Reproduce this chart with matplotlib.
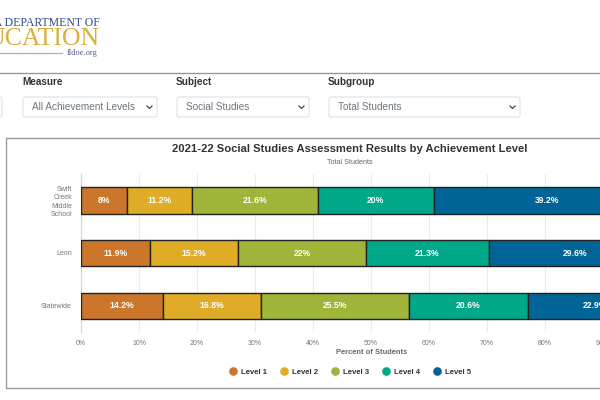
#!/usr/bin/env python3
"""Stacked achievement level bars inside a cropped dashboard page."""
import matplotlib
matplotlib.use("Agg")
import matplotlib.pyplot as plt
from matplotlib.lines import Line2D
from matplotlib.patches import FancyBboxPatch, Rectangle

plt.rcParams["font.family"] = ["Liberation Sans", "DejaVu Sans"]

schools = ["Swift\nCreek\nMiddle\nSchool", "Leon", "Statewide"]
levels = ["Level 1", "Level 2", "Level 3", "Level 4", "Level 5"]
level_1 = [8, 11.9, 14.2]
level_2 = [11.2, 15.2, 16.8]
level_3 = [21.6, 22, 25.5]
level_4 = [20, 21.3, 20.6]
level_5 = [39.2, 29.6, 22.9]
colors = ["#cc762b", "#deac27", "#9eb53a", "#00a88a", "#006496"]
x_ticks = [0, 10, 20, 30, 40, 50, 60, 70, 80, 90, 100]

W, H = 600, 400


def add_dropdown(page, x0, x1, label, value):
    if label:
        page.text(x0, 82, label, fontsize=7.2, fontweight="bold", color="#333333", va="center")
    page.add_patch(FancyBboxPatch((x0 + 1, 97), x1 - x0 - 2, 20, boxstyle="round,pad=0,rounding_size=2",
                                  fc="white", ec="#dee2e6", lw=0.8))
    page.text(x0 + 10, 107, value, fontsize=7.2, color="#6c757d", va="center")
    page.plot([x1 - 11, x1 - 8.5, x1 - 6], [106, 108.5, 106], color="#444444", lw=0.9)


def draw_page(fig):
    page = fig.add_axes([0, 0, 1, 1])
    page.set_xlim(0, W)
    page.set_ylim(H, 0)
    page.axis("off")

    # logo, cut off by the left edge like the screenshot
    page.text(100, 23, "DA DEPARTMENT OF", fontsize=8.5, family="Liberation Serif", color="#2f4a80",
              ha="right", va="center")
    page.text(100, 39, "UCATION", fontsize=18.5, family="Liberation Serif", color="#dcae3c",
              ha="right", va="center")
    page.plot([0, 62], [52.5, 52.5], color="#aeb4d4", lw=1)
    page.text(98, 53, "fldoe.org", fontsize=6, family="Liberation Serif", color="#4a5a85",
              ha="right", va="center")

    page.plot([0, W], [73, 73], color="#999999", lw=1)
    add_dropdown(page, -60, 3, "", "")
    add_dropdown(page, 22, 158, "Measure", "All Achievement Levels")
    add_dropdown(page, 176, 310, "Subject", "Social Studies")
    add_dropdown(page, 328, 521, "Subgroup", "Total Students")

    page.add_patch(Rectangle((6, 138), 640, 250, fc="white", ec="#999999", lw=1))
    page.text(349.5, 149, "2021-22 Social Studies Assessment Results by Achievement Level",
              fontsize=8.1, fontweight="bold", color="#333333", ha="center", va="center")
    page.text(349.5, 162.5, "Total Students", fontsize=5.2, color="#666666", ha="center", va="center")


def draw_chart(fig):
    ax = fig.add_axes([81 / W, 1 - 332 / H, 580 / W, 158 / H], facecolor="none")
    ax.set_xlim(0, 100)
    ax.set_ylim(2.5, -0.5)

    left = [0.0] * len(schools)
    for name, values, color in zip(levels, [level_1, level_2, level_3, level_4, level_5], colors):
        bars = ax.barh(range(len(schools)), values, left=left, height=0.5, color=color,
                       edgecolor="#222222", linewidth=1, label=name, zorder=3)
        ax.bar_label(bars, labels=[f"{v:g}%" for v in values], label_type="center", color="white",
                     fontsize=6.2, fontweight="bold", zorder=4)
        left = [a + b for a, b in zip(left, values)]

    ax.set_xticks(x_ticks)
    ax.set_xticklabels([f"{t}%" for t in x_ticks])
    ax.set_yticks(range(len(schools)))
    ax.set_yticklabels(schools, linespacing=1.25)
    ax.tick_params(axis="both", length=0, labelsize=5, labelcolor="#777777")
    ax.tick_params(axis="x", pad=5.5)
    ax.tick_params(axis="y", pad=6.5)
    ax.grid(True, axis="x", color="#e8ebf0", lw=0.8, zorder=0)
    ax.spines[["top", "right", "bottom"]].set_visible(False)
    ax.spines["left"].set_color("#ccd6eb")
    ax.spines["left"].set_linewidth(0.8)

    # axis title sits under the plotting area of the whole 0-100 range
    fig.text(371.5 / W, 1 - 352.5 / H, "Percent of Students", fontsize=5.4, fontweight="bold",
             color="#666666", ha="center", va="center")

    handles = [Line2D([], [], ls="", marker="o", ms=5.2, mfc=c, mec=c) for c in colors]
    fig.legend(handles, levels, loc="center", bbox_to_anchor=(349 / W, 1 - 372 / H), ncol=5, frameon=False,
               labelcolor="#333333", handlelength=1.4, handletextpad=0.33, columnspacing=1.48,
               prop={"size": 5.6, "weight": "bold"})


def main():
    fig = plt.figure(figsize=(W / 100, H / 100), dpi=100, facecolor="white")
    draw_page(fig)
    draw_chart(fig)
    fig.savefig("out.png", dpi=100)


if __name__ == "__main__":
    main()
